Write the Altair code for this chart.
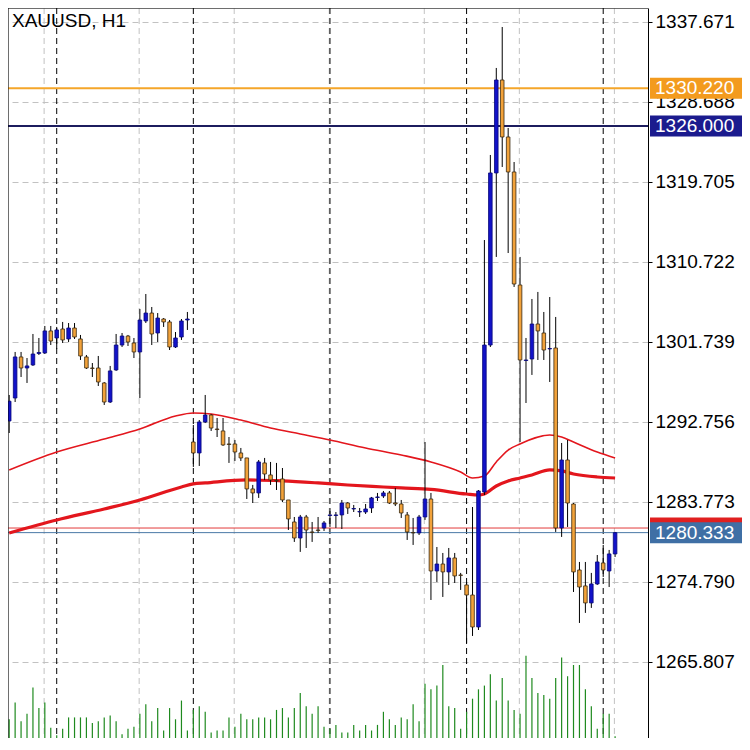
import altair as alt
import numpy as np
import pandas as pd

FONT = 'Liberation Sans'
W, H = 640, 730

BLUE = '#1212c8'
ORANGE = '#f2a23a'
GREEN = '#1f8a1f'
MA_RED = '#e3161d'

# H1 bars, oldest first
opens = [1292.87, 1295.45, 1300.06, 1298.82, 1299.16, 1300.45, 1300.51, 1302.98, 1302.19, 1303.20,
         1302.08, 1303.31, 1302.08, 1300.06, 1298.82, 1298.82, 1297.14, 1295.00, 1298.60, 1301.40,
         1302.41, 1301.63, 1300.62, 1304.10, 1304.99, 1302.75, 1304.32, 1303.99, 1301.18, 1302.30,
         1304.21, 1290.51, 1289.28, 1292.76, 1293.54, 1291.97, 1291.75, 1290.29, 1290.29, 1289.28,
         1288.72, 1285.24, 1284.79, 1288.16, 1286.81, 1286.19, 1286.36, 1284.00, 1281.53, 1279.73,
         1282.09, 1280.41, 1280.63, 1280.86, 1282.26, 1282.26, 1282.32, 1283.66, 1282.99, 1282.65,
         1282.65, 1283.10, 1284.28, 1284.45, 1284.79, 1283.66, 1283.55, 1282.32, 1280.35, 1280.30,
         1282.09, 1284.11, 1276.03, 1276.81, 1275.92, 1277.49, 1275.58, 1274.46, 1273.33, 1269.74,
         1284.90, 1301.40, 1320.72, 1331.16, 1324.76, 1320.83, 1308.14, 1299.66, 1299.83, 1303.76,
         1302.75, 1300.96, 1301.07, 1280.86, 1288.49, 1283.55, 1276.14, 1274.35, 1272.44, 1274.57,
         1276.93, 1276.03, 1277.94]
highs = [1295.79, 1300.62, 1300.62, 1299.94, 1302.64, 1302.19, 1303.54, 1303.54, 1303.43, 1303.99,
         1303.87, 1303.87, 1302.53, 1300.28, 1299.38, 1300.17, 1297.25, 1299.05, 1302.64, 1302.75,
         1302.53, 1302.19, 1305.45, 1307.13, 1305.67, 1304.99, 1304.43, 1304.21, 1302.86, 1304.32,
         1305.11, 1292.42, 1292.98, 1295.79, 1293.66, 1293.21, 1293.21, 1291.07, 1290.74, 1289.84,
         1288.72, 1285.69, 1288.49, 1288.72, 1288.27, 1288.16, 1287.59, 1284.00, 1282.09, 1282.32,
         1282.32, 1281.53, 1282.09, 1281.64, 1282.76, 1282.65, 1284.00, 1283.77, 1283.44, 1283.10,
         1283.55, 1284.34, 1284.79, 1285.01, 1285.01, 1285.35, 1284.00, 1282.65, 1281.98, 1282.32,
         1290.51, 1284.79, 1278.72, 1278.05, 1278.61, 1278.05, 1275.81, 1274.79, 1283.21, 1285.12,
         1313.19, 1322.74, 1332.51, 1337.11, 1325.77, 1321.95, 1311.29, 1302.19, 1306.57, 1307.36,
         1305.11, 1306.79, 1304.55, 1290.40, 1290.74, 1283.66, 1277.04, 1277.04, 1275.81, 1277.82,
         1278.95, 1278.39, 1280.41]
lows = [1291.52, 1295.00, 1297.81, 1297.14, 1299.05, 1300.28, 1300.39, 1301.40, 1300.96, 1301.63,
        1301.74, 1302.08, 1299.72, 1298.71, 1297.81, 1296.80, 1294.67, 1294.89, 1298.49, 1301.18,
        1301.29, 1299.94, 1295.45, 1303.87, 1301.40, 1301.74, 1303.43, 1300.84, 1301.07, 1301.97,
        1303.09, 1287.71, 1287.82, 1292.64, 1291.75, 1291.07, 1290.07, 1288.16, 1288.38, 1288.38,
        1284.11, 1283.66, 1284.23, 1286.25, 1285.69, 1285.12, 1283.77, 1280.63, 1279.29, 1278.17,
        1278.61, 1279.29, 1280.30, 1280.52, 1280.97, 1280.86, 1280.74, 1282.43, 1282.65, 1282.09,
        1282.43, 1282.54, 1283.89, 1284.23, 1283.55, 1283.32, 1281.98, 1279.51, 1278.95, 1280.07,
        1281.76, 1272.77, 1274.79, 1273.11, 1274.46, 1274.68, 1273.90, 1267.94, 1268.73, 1269.40,
        1284.56, 1301.18, 1311.29, 1321.39, 1311.73, 1307.92, 1290.51, 1294.89, 1298.04, 1299.72,
        1299.72, 1297.25, 1280.41, 1279.85, 1280.97, 1273.67, 1270.19, 1271.32, 1271.88, 1274.46,
        1275.36, 1274.23, 1277.60]
closes = [1295.09, 1300.06, 1298.82, 1299.05, 1300.39, 1300.56, 1302.98, 1301.85, 1303.09, 1301.97,
          1303.31, 1302.30, 1300.17, 1298.82, 1298.77, 1297.25, 1295.00, 1298.49, 1301.40, 1302.41,
          1301.74, 1300.62, 1304.21, 1304.99, 1302.64, 1304.43, 1303.99, 1301.18, 1302.19, 1304.10,
          1304.32, 1289.28, 1292.76, 1293.54, 1292.08, 1291.91, 1290.18, 1290.23, 1289.39, 1288.72,
          1285.24, 1284.79, 1288.27, 1286.92, 1286.25, 1286.14, 1284.00, 1281.87, 1279.73, 1282.09,
          1280.63, 1280.35, 1280.58, 1281.42, 1282.32, 1282.32, 1283.66, 1283.10, 1283.04, 1282.71,
          1282.99, 1284.23, 1284.34, 1284.79, 1283.66, 1283.55, 1282.54, 1280.41, 1280.30, 1282.09,
          1284.11, 1276.03, 1276.81, 1275.92, 1277.49, 1275.47, 1275.53, 1273.33, 1269.74, 1285.01,
          1301.40, 1320.72, 1331.16, 1324.76, 1320.83, 1308.25, 1299.72, 1299.72, 1303.76, 1302.98,
          1300.84, 1301.01, 1280.86, 1288.49, 1283.66, 1275.92, 1274.23, 1272.44, 1274.57, 1277.04,
          1276.14, 1277.94, 1280.33]
volumes = [20, 38, 18, 26, 54, 32, 38, 11, 3, 10,
           22, 22, 22, 22, 16, 18, 22, 24, 18, 4,
           10, 12, 26, 36, 18, 32, 8, 32, 20, 40,
           8, 30, 34, 28, 6, 8, 8, 22, 12, 26,
           20, 20, 22, 22, 20, 30, 32, 22, 32, 48,
           34, 26, 34, 12, 10, 14, 6, 6, 14, 8,
           14, 8, 14, 28, 20, 14, 22, 20, 36, 18,
           58, 52, 56, 78, 34, 32, 10, 28, 42, 52,
           56, 68, 40, 64, 40, 30, 26, 88, 64, 48,
           46, 42, 64, 86, 66, 78, 78, 52, 34, 10,
           26, 26, 2]

# moving averages read at a few bars
ma_fast_idx = [0, 8, 16, 22, 28, 31, 34, 39, 44, 49, 54, 60, 66, 71, 76, 78, 80, 82, 84, 86,
               91, 93, 95, 99, 102]
ma_fast_val = [1287.37, 1289.39, 1290.85, 1291.97, 1293.43, 1293.77, 1293.66, 1292.98, 1292.08,
               1291.41, 1290.74, 1289.84, 1289.05, 1288.27, 1287.14, 1286.47, 1286.69, 1288.27,
               1289.61, 1290.29, 1291.30, 1291.07, 1290.51, 1289.39, 1288.72]
ma_slow_idx = [0, 8, 16, 22, 29, 31, 33, 40, 46, 52, 57, 63, 66, 71, 77, 79, 80, 82, 84, 86,
               88, 91, 93, 95, 99, 102]
ma_slow_val = [1280.29, 1281.75, 1282.99, 1284.00, 1285.46, 1285.80, 1285.91, 1286.25, 1286.14,
               1285.91, 1285.68, 1285.46, 1285.35, 1285.18, 1284.67, 1284.56, 1284.67, 1285.57,
               1286.13, 1286.47, 1286.81, 1287.37, 1287.26, 1286.92, 1286.58, 1286.47]

price_ticks = [1265.807, 1274.790, 1283.773, 1292.756, 1301.739, 1310.722, 1319.705,
               1328.688, 1337.671]
grid_idx = [5.88, 21.88, 37.88, 53.88, 69.88, 85.88, 101.88]
day_idx = [8, 31, 54, 77, 100]

level_prices = [1330.220, 1326.000, 1280.850, 1280.333]
level_line_colors = ['#f5a62a', '#1c1c5e', '#e23a3a', '#4a78a6']
level_widths = [2, 2, 1, 1]
level_tag_colors = ['#f39b1e', '#1b1b8e', '#e02020', '#3f6fa5']
level_tag_text = ['1330.220', '1326.000', '', '1280.333']

n = len(opens)
candles = pd.DataFrame({'i': range(n), 'open': opens, 'high': highs,
                        'low': lows, 'close': closes})
candles['dir'] = np.where(candles['close'] >= candles['open'], 'up', 'down')
vol_df = pd.DataFrame({'i': range(n), 'vol': volumes})
levels = pd.DataFrame({'price': level_prices, 'line': level_line_colors,
                       'w': level_widths, 'bg': level_tag_colors,
                       'label': level_tag_text})

x_scale = alt.Scale(domain=[-0.2, 107.54], nice=False, zero=False, padding=0)
y_scale = alt.Scale(domain=[1257.273, 1339.243], nice=False, zero=False, padding=0)
X = alt.X('i:Q', scale=x_scale, axis=None)

price_axis = alt.Axis(orient='right', values=price_ticks, format='.3f', title=None,
                      labelFont=FONT, labelFontSize=19, labelColor='black',
                      labelPadding=3, tickColor='black', tickSize=4,
                      domainColor='black', grid=True, gridColor='#c2c2c2',
                      gridDash=[6, 4])


def py(field):
    return alt.Y(field, scale=y_scale, axis=price_axis)


grid_v = alt.Chart(pd.DataFrame({'i': grid_idx})).mark_rule(
    color='#c2c2c2', strokeDash=[6, 4], clip=True).encode(x=X)

day_sep = alt.Chart(pd.DataFrame({'i': day_idx})).mark_rule(
    color='black', strokeDash=[6, 4], clip=True).encode(x=X)

vol = alt.Chart(vol_df).mark_rule(color=GREEN, strokeWidth=1.2, clip=True).encode(
    x=X,
    y=alt.Y('vol:Q', scale=alt.Scale(domain=[0, 780], nice=False, padding=0), axis=None),
    y2=alt.datum(0)
)

level_lines = alt.Chart(levels).mark_rule(clip=True).encode(
    y=py('price:Q'),
    color=alt.Color('line:N', scale=None),
    strokeWidth=alt.StrokeWidth('w:Q', scale=None)
)

ma_fast = alt.Chart(pd.DataFrame({'i': ma_fast_idx, 'ma': ma_fast_val})).mark_line(
    color=MA_RED, strokeWidth=1.6, interpolate='monotone', clip=True
).encode(x=X, y=py('ma:Q'))

ma_slow = alt.Chart(pd.DataFrame({'i': ma_slow_idx, 'ma': ma_slow_val})).mark_line(
    color=MA_RED, strokeWidth=3.2, interpolate='monotone', clip=True
).encode(x=X, y=py('ma:Q'))

wicks = alt.Chart(candles).mark_rule(color='black', strokeWidth=1, clip=True).encode(
    x=X, y=py('low:Q'), y2='high:Q')

bodies = alt.Chart(candles).mark_bar(size=3.6, strokeWidth=0.8, orient='vertical',
                                     clip=True).encode(
    x=X,
    y=py('open:Q'),
    y2='close:Q',
    color=alt.Color('dir:N', scale=alt.Scale(domain=['up', 'down'], range=[BLUE, ORANGE]),
                    legend=None),
    stroke=alt.Stroke('dir:N', scale=alt.Scale(domain=['up', 'down'],
                                               range=['#08087a', '#3a2a12']), legend=None)
)

tags = alt.Chart(levels).mark_tick(orient='horizontal', size=92, thickness=21,
                                   opacity=1, clip=False).encode(
    x=alt.value(W + 48),
    y=py('price:Q'),
    color=alt.Color('bg:N', scale=None)
)

tag_text = alt.Chart(levels).mark_text(align='left', baseline='middle', font=FONT,
                                       fontSize=19, color='white', clip=False).encode(
    x=alt.value(W + 7),
    y=py('price:Q'),
    text='label:N'
)

dummy = pd.DataFrame({'a': [0]})
left_border = alt.Chart(dummy).mark_rule(color='black').encode(
    x=alt.value(0), y=alt.value(0), y2=alt.value(H))
top_border = alt.Chart(dummy).mark_rule(color='black').encode(
    x=alt.value(0), x2=alt.value(W), y=alt.value(0))

title = alt.Chart(pd.DataFrame({'t': ['XAUUSD, H1']})).mark_text(
    align='left', baseline='alphabetic', font=FONT, fontSize=19, color='black'
).encode(x=alt.value(4), y=alt.value(19), text='t:N')

price = alt.layer(level_lines, ma_fast, ma_slow, wicks, bodies, tags, tag_text,
                  left_border, top_border, title)

chart = alt.layer(grid_v, day_sep, vol, price).resolve_scale(
    y='independent'
).properties(
    width=W, height=H,
    autosize=alt.AutoSizeParams(type='none'),
    padding={'left': 0, 'top': 0, 'right': 94, 'bottom': 0}
).configure_view(stroke=None).configure(background='white')

chart.save('out.html', embed_options={'renderer': 'svg', 'actions': False})
